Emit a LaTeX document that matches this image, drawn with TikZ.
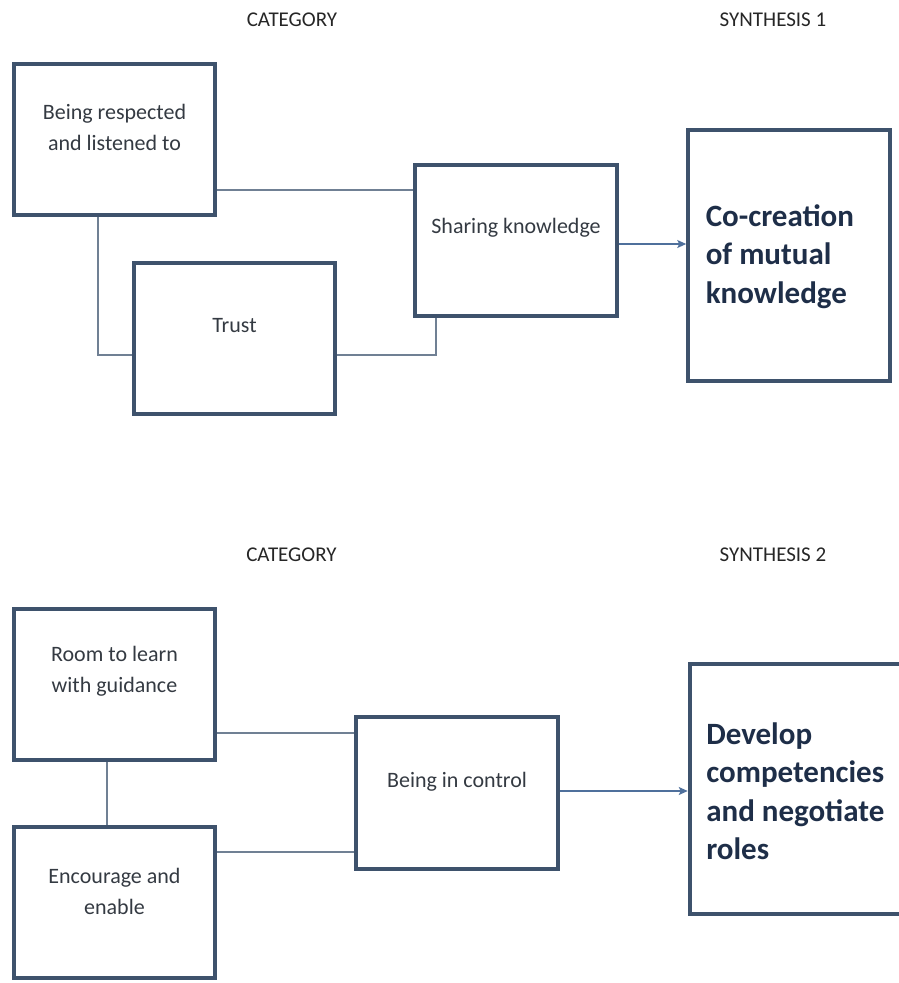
\documentclass[tikz,border=0pt]{standalone}
\usepackage{fontspec}
\setmainfont{Carlito}
\usetikzlibrary{arrows.meta}
\definecolor{boxline}{RGB}{62,82,108}
\definecolor{linkline}{RGB}{112,128,148}
\definecolor{arrowline}{RGB}{79,112,156}
\definecolor{bodytext}{RGB}{52,58,66}
\definecolor{headtext}{RGB}{30,46,72}
\tikzset{
  catbox/.style={draw=boxline,line width=4pt,minimum width=201.5pt,minimum height=151.5pt,inner sep=0pt},
  synbox/.style={catbox,minimum height=250.5pt},
  lbl/.style={text=bodytext,align=center,font=\fontsize{22}{31}\selectfont},
  synlbl/.style={text=headtext,align=left,anchor=west,font=\fontsize{31}{38.5}\selectfont\bfseries},
  head/.style={text=black!85,font=\fontsize{21}{25}\selectfont},
  link/.style={draw=linkline,line width=1.3pt},
  arr/.style={draw=arrowline,line width=1.4pt,-{Stealth[length=9pt,width=8pt,inset=2pt]}},
}

\begin{document}
\begin{tikzpicture}[x=1pt,y=-1pt]
\useasboundingbox (0,0) rectangle (899,983);

% synthesis 1
\node[head] (cat1) at (292,19.5) {CATEGORY};
\node[head] (syn1) at (773,19.5) {SYNTHESIS 1};

\node[catbox] (resp) at (114.5,139.5) {};
\node[catbox] (trust) at (234.5,338.5) {};
\node[catbox] (share) at (516,240.5) {};
\node[synbox] (cocre) at (789,255.5) {};

\node[lbl] (resp-t) at ([yshift=12pt]resp.center) {Being respected\\and listened to};
\node[lbl] (trust-t) at ([yshift=12.5pt]trust.center) {Trust};
\node[lbl] (share-t) at ([yshift=12.5pt]share.center) {Sharing knowledge};
\node[synlbl] (cocre-t) at ([xshift=16pt,yshift=-1pt]cocre.west) {Co-creation\\of mutual\\knowledge};

\draw[link] ([yshift=-50.5pt]resp.east) -- ([yshift=-50.5pt]resp.east -| share.west);
\draw[link] ([xshift=-16.5pt]resp.south) |- ([yshift=-16.5pt]trust.west);
\draw[link] ([yshift=-16.5pt]trust.east) -| ([xshift=-80pt]share.south);
\draw[arr] ([yshift=-3.5pt]share.east) -- ([yshift=-3.5pt]share.east -| cocre.west);

% synthesis 2
\node[head] (cat2) at (291.5,554.5) {CATEGORY};
\node[head] (syn2) at (773,554.5) {SYNTHESIS 2};

\node[catbox] (room) at (114.5,684.5) {};
\node[catbox] (enc) at (114.5,902.5) {};
\node[catbox] (ctrl) at (457,793) {};
\node[synbox,minimum width=230pt] (dev) at (804.75,789) {};

\node[lbl] (room-t) at ([yshift=13.5pt]room.center) {Room to learn\\with guidance};
\node[lbl] (enc-t) at ([yshift=11.5pt]enc.center) {Encourage and\\enable};
\node[lbl] (ctrl-t) at ([yshift=11pt]ctrl.center) {Being in control};
\node[synlbl] (dev-t) at ([xshift=15pt,yshift=-2pt]dev.west) {Develop\\competencies\\and negotiate\\roles};

\draw[link] ([yshift=-48.5pt]room.east) -- ([yshift=-48.5pt]room.east -| ctrl.west);
\draw[link] ([xshift=-7.5pt]room.south) -- ([xshift=-7.5pt]enc.north);
\draw[link] ([yshift=50.5pt]enc.east) -- ([yshift=50.5pt]enc.east -| ctrl.west);
\draw[arr] ([yshift=2pt]ctrl.east) -- ([yshift=2pt]ctrl.east -| dev.west);
\end{tikzpicture}
\end{document}
